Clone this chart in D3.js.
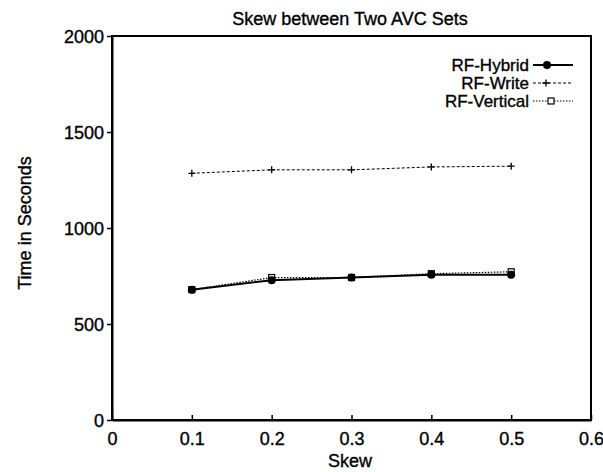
<!DOCTYPE html>
<html>
<head>
<meta charset="utf-8">
<script src="https://cdn.jsdelivr.net/npm/d3@7"></script>
<style>
  body { margin: 0; background: #fff; }
  text { font-family: "Liberation Sans", Arial, sans-serif; fill: #000; stroke: #000; stroke-width: 0.35; }
</style>
</head>
<body>
<div id="chart"></div>
<script>
// data
var skew = [0.1, 0.2, 0.3, 0.4, 0.5];
var hybrid = [678, 728, 742, 757, 757];
var write = [1285, 1303, 1303, 1318, 1322];
var vertical = [679, 742, 742, 762, 772];
var xTicks = [0, 0.1, 0.2, 0.3, 0.4, 0.5, 0.6];
var yTicks = [0, 500, 1000, 1500, 2000];

var svgWidth = 603, svgHeight = 472;
var margin = { top: 36, right: 12, bottom: 52, left: 112 };
var chartWidth = svgWidth - margin.left - margin.right;
var chartHeight = svgHeight - margin.top - margin.bottom;

var svg = d3.select("#chart").append("svg")
  .attr("width", svgWidth)
  .attr("height", svgHeight);

var chartGroup = svg.append("g")
  .attr("transform", `translate(${margin.left}, ${margin.top})`);

var xScale = d3.scaleLinear().domain([0, 0.6]).range([0, chartWidth]);
var yScale = d3.scaleLinear().domain([0, 2000]).range([chartHeight, 0]);

// frame
chartGroup.append("rect")
  .attr("width", chartWidth).attr("height", chartHeight)
  .attr("fill", "none").attr("stroke", "#000").attr("stroke-width", 2);

// x ticks point inward, y ticks outward
var xAxis = d3.axisBottom(xScale).tickValues(xTicks).tickSizeInner(-5).tickSizeOuter(0)
  .tickFormat(d => d === 0 ? "0" : d3.format(".1f")(d));
var yAxis = d3.axisLeft(yScale).tickValues(yTicks).tickSize(5).tickSizeOuter(0)
  .tickFormat(d3.format("d"));

var gx = chartGroup.append("g")
  .attr("transform", `translate(0, ${chartHeight})`)
  .call(xAxis);
var gy = chartGroup.append("g").call(yAxis);

[gx, gy].forEach(function(g) {
  g.select(".domain").attr("stroke-width", 2);
  g.selectAll(".tick line").attr("stroke-width", 1.5);
  g.selectAll(".tick text").style("font-size", "18px")
    .style("font-family", "Liberation Sans, Arial, sans-serif");
});
gx.selectAll(".tick text").attr("y", 25).attr("dy", 0);
gy.selectAll(".tick text").attr("x", -8).attr("dy", "0.36em");

// titles
svg.append("text").attr("x", 350).attr("y", 25).attr("text-anchor", "middle")
  .style("font-size", "18px").text("Skew between Two AVC Sets");
svg.append("text").attr("x", 350).attr("y", 467).attr("text-anchor", "middle")
  .style("font-size", "18px").text("Skew");
svg.append("text").attr("transform", "translate(31, 223) rotate(-90)")
  .attr("text-anchor", "middle").style("font-size", "18px").text("Time in Seconds");

var series = [
  { name: "RF-Hybrid", values: hybrid, dash: null, width: 2, marker: "dot", mx: 547 },
  { name: "RF-Write", values: write, dash: "3,2", width: 1, marker: "plus", mx: 546 },
  { name: "RF-Vertical", values: vertical, dash: "1.5,1.5", width: 1.2, marker: "square", mx: 551 }
];

var line = d3.line().x((d, i) => xScale(skew[i])).y(d => yScale(d));

function drawMarker(g, type, x, y) {
  if (type === "dot") {
    g.append("circle").attr("cx", x).attr("cy", y).attr("r", 4).attr("fill", "#000");
  } else if (type === "plus") {
    g.append("path").attr("d", `M${x-3.5},${y}H${x+3.5}M${x},${y-3.5}V${y+3.5}`)
      .attr("stroke", "#000").attr("stroke-width", 1.3);
  } else {
    g.append("rect").attr("x", x - 3).attr("y", y - 3).attr("width", 6).attr("height", 6)
      .attr("fill", "#fff").attr("stroke", "#000").attr("stroke-width", 1.2);
  }
}

// vertical underneath, hybrid on top
[series[2], series[1], series[0]].forEach(function(s) {
  chartGroup.append("path").datum(s.values)
    .attr("d", line).attr("fill", "none").attr("stroke", "#000")
    .attr("stroke-width", s.width).attr("stroke-dasharray", s.dash);
  var mg = chartGroup.append("g");
  s.values.forEach(function(v, i) { drawMarker(mg, s.marker, xScale(skew[i]), yScale(v)); });
});

// legend
var legend = svg.append("g");
series.forEach(function(s, i) {
  var y = 65 + i * 18;
  legend.append("text").attr("x", 529).attr("y", y).attr("text-anchor", "end")
    .attr("dy", "0.36em").style("font-size", "17px").text(s.name);
  legend.append("line").attr("x1", 533).attr("x2", 573).attr("y1", y).attr("y2", y)
    .attr("stroke", "#000").attr("stroke-width", s.width).attr("stroke-dasharray", s.dash);
  drawMarker(legend, s.marker, s.mx, y);
});
</script>
</body>
</html>
